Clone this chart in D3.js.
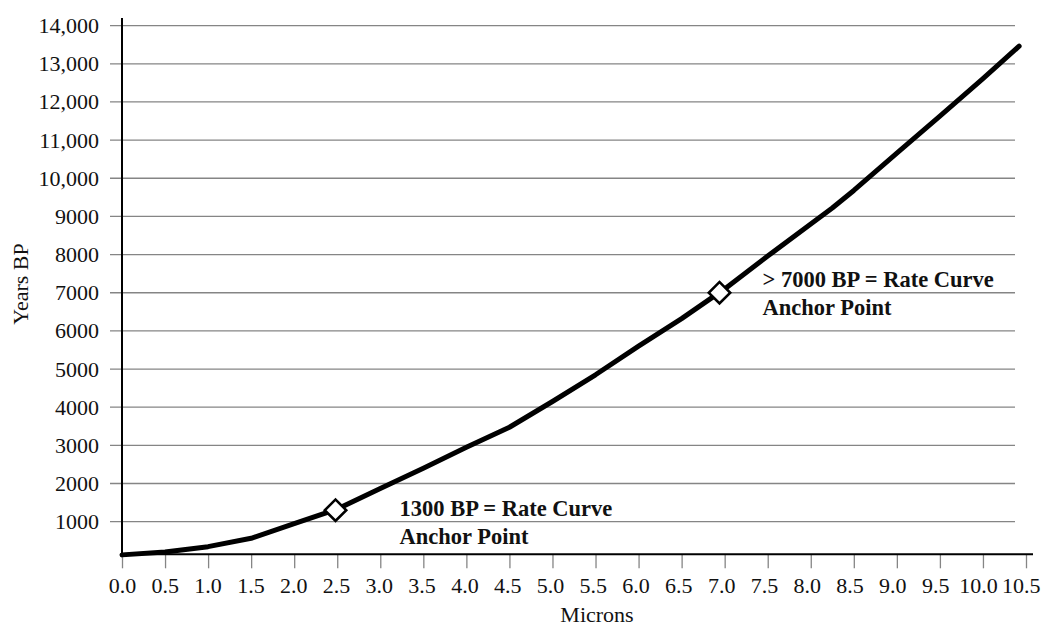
<!DOCTYPE html>
<meta charset="utf-8">
<head>
  <style>
    body { margin: 0; background: #fff; }
    svg { display: block; font-family: "Liberation Serif", "Times New Roman", serif; }
    .grid line { stroke: #858585; stroke-width: 1.3px; }
    .tick line { stroke: #858585; stroke-width: 1.3px; }
    .tick text { font-size: 22px; fill: #111; }
    .frame { stroke: #000; stroke-width: 2px; }
    .curve { fill: none; stroke: #000; stroke-width: 5px; stroke-linejoin: round; stroke-linecap: round; }
    .anchor { fill: #fff; stroke: #000; stroke-width: 2.6px; }
    .note { font-size: 22.5px; font-weight: bold; fill: #111; }
    .title { font-size: 22px; fill: #111; }
  </style>
  <script src="https://cdn.jsdelivr.net/npm/d3@7"></script>
</head>
<body>
<script>
  // curve, microns -> years BP
  var microns = [0.0, 0.5, 1.0, 1.5, 2.0, 2.5, 3.0, 3.5, 4.0, 4.5, 5.0, 5.5, 6.0, 6.5, 7.0, 7.5, 8.0, 8.25, 8.5, 9.0, 9.5, 10.0, 10.42]
    , yearsBP = [130, 205, 345, 565, 950, 1330, 1870, 2400, 2950, 3475, 4150, 4850, 5600, 6320, 7100, 7960, 8800, 9220, 9680, 10660, 11630, 12610, 13460]

    , anchorMicrons = [2.48, 6.94]
    , anchorYears   = [1300, 7000]
    , anchorLines   = [["1300 BP = Rate Curve", "Anchor Point"], ["> 7000 BP = Rate Curve", "Anchor Point"]]

    , xTicks = d3.range(0, 10.51, 0.5)
    , yTicks = [1000, 2000, 3000, 4000, 5000, 6000, 7000, 8000, 9000, 10000, 11000, 12000, 13000, 14000]

    , width = 1041
    , height = 628
    ;

  var svg = d3.select("body").append("svg")
      .attr("width", width)
      .attr("height", height);

  var x = d3.scaleLinear().domain([0, 10.5]).range([122, 1026]);
  var y = d3.scaleLinear().domain([145, 14200]).range([554.3, 18]);

  // horizontal gridlines (they also poke out left of the axis as ticks)
  svg.append("g").attr("class", "grid")
    .selectAll("line")
    .data(yTicks)
    .enter().append("line")
      .attr("x1", 110)
      .attr("x2", 1015)
      .attr("y1", function(d) { return y(d); })
      .attr("y2", function(d) { return y(d); });

  // y labels
  var yAxis = svg.append("g")
      .attr("transform", "translate(110,0)")
      .call(d3.axisLeft(y)
        .tickValues(yTicks)
        .tickSize(0)
        .tickPadding(11)
        .tickFormat(function(d) { return d >= 10000 ? d3.format(",")(d) : d; }));
  yAxis.select(".domain").remove();
  yAxis.attr("font-family", null).attr("font-size", null);

  // x axis
  var xAxis = svg.append("g")
      .attr("transform", "translate(0," + y(145) + ")")
      .call(d3.axisBottom(x)
        .tickValues(xTicks)
        .tickSize(14)
        .tickPadding(9)
        .tickFormat(d3.format(".1f")));
  xAxis.select(".domain").remove();
  xAxis.attr("font-family", null).attr("font-size", null);
  // labels sit a touch tighter than the ticks, so the last one fits
  xAxis.selectAll(".tick text")
      .attr("dx", function(d, i) { return -0.25 * i; });

  // axis lines
  svg.append("line").attr("class", "frame")
      .attr("x1", x(0)).attr("x2", 1033)
      .attr("y1", y(145)).attr("y2", y(145));
  svg.append("line").attr("class", "frame")
      .attr("x1", x(0)).attr("x2", x(0))
      .attr("y1", y(14200)).attr("y2", y(145));

  // the rate curve
  var line = d3.line()
      .x(function(d) { return x(d[0]); })
      .y(function(d) { return y(d[1]); });

  svg.append("path")
      .datum(d3.zip(microns, yearsBP))
      .attr("class", "curve")
      .attr("d", line);

  // anchor points
  svg.selectAll(".anchor")
      .data(d3.zip(anchorMicrons, anchorYears))
      .enter().append("path")
      .attr("class", "anchor")
      .attr("transform", function(d) { return "translate(" + x(d[0]) + "," + y(d[1]) + ")rotate(45)"; })
      .attr("d", d3.symbol().type(d3.symbolSquare).size(230));

  // notes next to the anchors
  var noteOffset = [[64, 6], [43, -6]];
  anchorLines.forEach(function(lines, i) {
    var t = svg.append("text")
        .attr("class", "note")
        .attr("x", x(anchorMicrons[i]) + noteOffset[i][0])
        .attr("y", y(anchorYears[i]) + noteOffset[i][1]);
    lines.forEach(function(s, j) {
      t.append("tspan")
        .attr("x", x(anchorMicrons[i]) + noteOffset[i][0])
        .attr("dy", j ? 28 : 0)
        .text(s);
    });
  });

  // axis titles
  svg.append("text")
      .attr("class", "title")
      .attr("x", 597)
      .attr("y", 622)
      .attr("text-anchor", "middle")
      .text("Microns");

  svg.append("text")
      .attr("class", "title")
      .attr("transform", "translate(28,284)rotate(-90)")
      .attr("text-anchor", "middle")
      .text("Years BP");
</script>
</body>
